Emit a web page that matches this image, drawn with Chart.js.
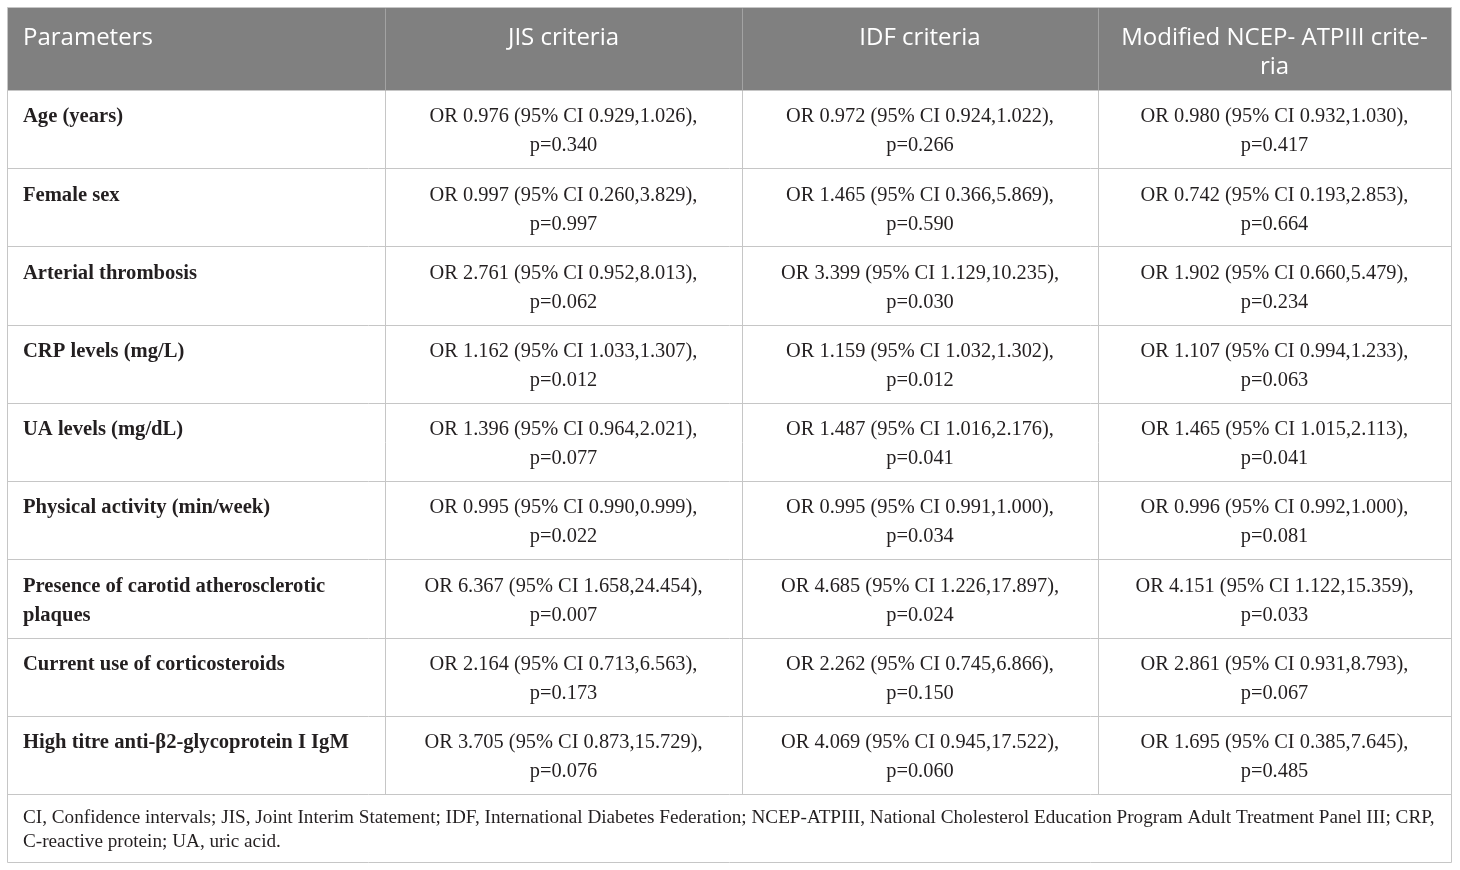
<!DOCTYPE html>
<html>
<head>
<meta charset="utf-8">
<title>Odds ratios by metabolic syndrome criteria</title>
<script src="https://cdn.jsdelivr.net/npm/chart.js@4.4.1/dist/chart.umd.min.js"></script>
<style>
  html, body { margin: 0; padding: 0; background: #fff; }
  canvas { display: block; }
</style>
</head>
<body>
<canvas id="tabela" width="1460" height="870"></canvas>
<script>
// column headers (one entry per line of text)
const headers = [
    ['Parameters'],
    ['JIS criteria'],
    ['IDF criteria'],
    ['Modified NCEP- ATPIII crite-', 'ria']
];

const parameters = [
    ['Age (years)'],
    ['Female sex'],
    ['Arterial thrombosis'],
    ['CRP levels (mg/L)'],
    ['UA levels (mg/dL)'],
    ['Physical activity (min/week)'],
    ['Presence of carotid atherosclerotic', 'plaques'],
    ['Current use of corticosteroids'],
    ['High titre anti-\u03b22-glycoprotein I IgM']
];

// JIS criteria
const jisOR   = [0.976, 0.997, 2.761, 1.162, 1.396, 0.995, 6.367, 2.164, 3.705];
const jisLow  = [0.929, 0.260, 0.952, 1.033, 0.964, 0.990, 1.658, 0.713, 0.873];
const jisHigh = [1.026, 3.829, 8.013, 1.307, 2.021, 0.999, 24.454, 6.563, 15.729];
const jisP    = [0.340, 0.997, 0.062, 0.012, 0.077, 0.022, 0.007, 0.173, 0.076];

// IDF criteria
const idfOR   = [0.972, 1.465, 3.399, 1.159, 1.487, 0.995, 4.685, 2.262, 4.069];
const idfLow  = [0.924, 0.366, 1.129, 1.032, 1.016, 0.991, 1.226, 0.745, 0.945];
const idfHigh = [1.022, 5.869, 10.235, 1.302, 2.176, 1.000, 17.897, 6.866, 17.522];
const idfP    = [0.266, 0.590, 0.030, 0.012, 0.041, 0.034, 0.024, 0.150, 0.060];

// Modified NCEP-ATPIII criteria
const ncepOR   = [0.980, 0.742, 1.902, 1.107, 1.465, 0.996, 4.151, 2.861, 1.695];
const ncepLow  = [0.932, 0.193, 0.660, 0.994, 1.015, 0.992, 1.122, 0.931, 0.385];
const ncepHigh = [1.030, 2.853, 5.479, 1.233, 2.113, 1.000, 15.359, 8.793, 7.645];
const ncepP    = [0.417, 0.664, 0.234, 0.063, 0.041, 0.081, 0.033, 0.067, 0.485];

const footnote = [
    'CI, Confidence intervals; JIS, Joint Interim Statement; IDF, International Diabetes Federation; NCEP-ATPIII, National Cholesterol Education Program Adult Treatment Panel III; CRP,',
    'C-reactive protein; UA, uric acid.'
];

// layout (table units = scale units)
const colWidths = [378, 357, 356, 353];
const headerHeight = 83;
const rowHeight = 78.2;
const footHeight = 68;

const fmt = (v) => v.toFixed(3);
const cellText = (or, lo, hi, p, i) => [
    'OR ' + fmt(or[i]) + ' (95% CI ' + fmt(lo[i]) + ',' + fmt(hi[i]) + '),',
    'p=' + fmt(p[i])
];

const colEdges = colWidths.reduce((acc, w) => { acc.push(acc[acc.length - 1] + w); return acc; }, [0]);
const rowEdges = [0, headerHeight];
parameters.forEach(() => rowEdges.push(rowEdges[rowEdges.length - 1] + rowHeight));
rowEdges.push(rowEdges[rowEdges.length - 1] + footHeight);

const tablePlugin = {
    id: 'tablePlugin',
    beforeDatasetsDraw(chart) {
        const ctx = chart.ctx;
        const x = chart.scales.x;
        const y = chart.scales.y;
        const X = (v) => Math.round(x.getPixelForValue(v)) + 0.5;
        const Y = (v) => Math.round(y.getPixelForValue(v)) + 0.5;
        const nBody = parameters.length;
        const bodyEnd = rowEdges[nBody + 1];

        ctx.save();
        // header background
        ctx.fillStyle = '#808080';
        ctx.fillRect(X(0), Y(0), X(colEdges[4]) - X(0), Y(headerHeight) - Y(0));

        // header text
        ctx.fillStyle = '#ffffff';
        ctx.font = '24px "Open Sans"';
        ctx.textBaseline = 'middle';
        headers.forEach((lines, c) => {
            lines.forEach((t, k) => {
                const py = y.getPixelForValue(31 + k * 29);
                if (c === 0) {
                    ctx.textAlign = 'left';
                    ctx.fillText(t, x.getPixelForValue(colEdges[0] + 16), py);
                } else {
                    ctx.textAlign = 'center';
                    ctx.fillText(t, x.getPixelForValue((colEdges[c] + colEdges[c + 1]) / 2), py);
                }
            });
        });

        // body text
        const cols = [
            null,
            (i) => cellText(jisOR, jisLow, jisHigh, jisP, i),
            (i) => cellText(idfOR, idfLow, idfHigh, idfP, i),
            (i) => cellText(ncepOR, ncepLow, ncepHigh, ncepP, i)
        ];
        ctx.fillStyle = '#231f20';
        for (let i = 0; i < nBody; i++) {
            const top = rowEdges[i + 1];
            ctx.font = 'bold 20.6px "Liberation Serif"';
            ctx.textAlign = 'left';
            parameters[i].forEach((t, k) => {
                ctx.fillText(t, x.getPixelForValue(colEdges[0] + 16), y.getPixelForValue(top + 27 + k * 29));
            });
            ctx.font = '20.4px "Liberation Serif"';
            ctx.textAlign = 'center';
            for (let c = 1; c < 4; c++) {
                cols[c](i).forEach((t, k) => {
                    ctx.fillText(t, x.getPixelForValue((colEdges[c] + colEdges[c + 1]) / 2), y.getPixelForValue(top + 27 + k * 29));
                });
            }
        }

        // footnote
        ctx.font = '19.2px "Liberation Serif"';
        ctx.textAlign = 'left';
        footnote.forEach((t, k) => {
            ctx.fillText(t, x.getPixelForValue(colEdges[0] + 16), y.getPixelForValue(bodyEnd + 24 + k * 24));
        });

        // grid lines
        ctx.lineWidth = 1;
        ctx.strokeStyle = '#c6c6c6';
        ctx.beginPath();
        for (let r = 1; r <= nBody + 1; r++) {
            ctx.moveTo(X(0), Y(rowEdges[r]));
            ctx.lineTo(X(colEdges[4]), Y(rowEdges[r]));
        }
        for (let c = 1; c < 4; c++) {
            ctx.moveTo(X(colEdges[c]), Y(headerHeight));
            ctx.lineTo(X(colEdges[c]), Y(bodyEnd));
        }
        ctx.rect(X(0), Y(0), X(colEdges[4]) - X(0), Y(rowEdges[rowEdges.length - 1]) - Y(0));
        ctx.stroke();

        // header dividers
        ctx.strokeStyle = '#a3a3a3';
        ctx.beginPath();
        for (let c = 1; c < 4; c++) {
            ctx.moveTo(X(colEdges[c]), Y(0) + 1);
            ctx.lineTo(X(colEdges[c]), Y(headerHeight));
        }
        ctx.stroke();
        ctx.restore();
    }
};

const ctx = document.getElementById('tabela').getContext('2d');
const tabela = new Chart(ctx, {
    type: 'scatter',
    data: { datasets: [] },
    options: {
        responsive: false,
        animation: false,
        layout: { padding: { left: 7, top: 7, right: 9, bottom: 8 } },
        plugins: { legend: { display: false }, tooltip: { enabled: false } },
        scales: {
            x: { type: 'linear', display: false, min: 0, max: colEdges[4] },
            y: { type: 'linear', display: false, reverse: true, min: 0, max: rowEdges[rowEdges.length - 1] }
        }
    },
    plugins: [tablePlugin]
});
</script>
</body>
</html>
